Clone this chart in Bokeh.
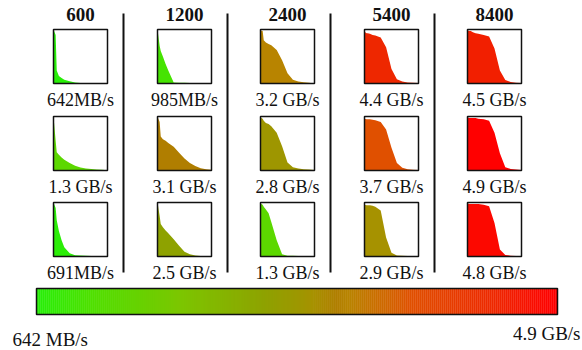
import numpy as np
from bokeh.plotting import figure
from bokeh.models import Range1d, LinearColorMapper, ColumnDataSource
from bokeh.core.properties import value
from bokeh.embed import file_html
from bokeh.resources import INLINE

# ---------------- data ----------------
disk_sizes = ["600", "1200", "2400", "5400", "8400"]

# throughput (MB/s) for each small chart, rows top to bottom
throughput_row1 = [642, 985, 3200, 4400, 4500]
throughput_row2 = [1300, 3100, 2800, 3700, 4900]
throughput_row3 = [691, 2500, 1300, 2900, 4800]

labels_row1 = ["642MB/s", "985MB/s", "3.2 GB/s", "4.4 GB/s", "4.5 GB/s"]
labels_row2 = ["1.3 GB/s", "3.1 GB/s", "2.8 GB/s", "3.7 GB/s", "4.9 GB/s"]
labels_row3 = ["691MB/s", "2.5 GB/s", "1.3 GB/s", "2.9 GB/s", "4.8 GB/s"]

scale_min = 642
scale_max = 4900
scale_min_label = "642 MB/s"
scale_max_label = "4.9 GB/s"

# shared horizontal sample positions (fraction of each small chart's width)
curve_u = [0, 0.04, 0.06, 0.1, 0.15, 0.2, 0.3, 0.4, 0.5, 0.6, 0.7, 0.8, 0.9, 1.0]

# curve heights (fraction of chart height)
curves_row1 = [
    [1.0, 0.9, 0.24, 0.14, 0.10, 0.07, 0.04, 0.02, 0.01, 0.005, 0, 0, 0, 0],
    [1.0, 0.7, 0.6, 0.5, 0.36, 0.24, 0.02, 0.015, 0.012, 0.01, 0.01, 0.01, 0.008, 0.005],
    [0.98, 0.97, 0.80, 0.76, 0.73, 0.71, 0.62, 0.43, 0.19, 0.07, 0.035, 0.025, 0.015, 0.0],
    [0.96, 0.93, 0.93, 0.92, 0.9, 0.89, 0.85, 0.67, 0.27, 0.08, 0.035, 0.02, 0.015, 0.01],
    [0.98, 0.97, 0.97, 0.95, 0.93, 0.92, 0.9, 0.87, 0.65, 0.24, 0.065, 0.03, 0.015, 0.01],
]
curves_row2 = [
    [1.0, 0.55, 0.34, 0.29, 0.24, 0.2, 0.14, 0.09, 0.055, 0.035, 0.028, 0.02, 0.012, 0.005],
    [1.0, 0.9, 0.63, 0.58, 0.55, 0.51, 0.44, 0.33, 0.22, 0.14, 0.085, 0.04, 0.025, 0.015],
    [0.98, 0.96, 0.92, 0.88, 0.86, 0.82, 0.7, 0.45, 0.15, 0.06, 0.035, 0.025, 0.02, 0.01],
    [0.96, 0.95, 0.95, 0.95, 0.94, 0.93, 0.9, 0.76, 0.42, 0.14, 0.05, 0.025, 0.015, 0.01],
    [0.98, 0.97, 0.97, 0.97, 0.97, 0.96, 0.95, 0.92, 0.7, 0.32, 0.06, 0.03, 0.02, 0.01],
]
curves_row3 = [
    [1.0, 0.9, 0.67, 0.47, 0.3, 0.17, 0.06, 0.025, 0.02, 0.015, 0.01, 0.0, 0.0, 0.0],
    [1.0, 0.75, 0.6, 0.54, 0.48, 0.43, 0.32, 0.2, 0.09, 0.04, 0.02, 0.01, 0.005, 0.0],
    [0.98, 0.96, 0.92, 0.87, 0.8, 0.64, 0.3, 0.04, 0.015, 0.012, 0.01, 0.01, 0.01, 0.01],
    [0.96, 0.95, 0.95, 0.95, 0.94, 0.92, 0.85, 0.35, 0.07, 0.02, 0.012, 0.01, 0.008, 0.005],
    [0.98, 0.97, 0.97, 0.97, 0.97, 0.97, 0.96, 0.93, 0.62, 0.13, 0.03, 0.015, 0.01, 0.005],
]

# colour scale stops (position along scale, colour)
color_stops = [(0.0, "#28ee08"), (0.1, "#4ee000"), (0.276, "#7cc600"), (0.436, "#8ea200"),
               (0.507, "#9e9600"), (0.53, "#a69200"), (0.577, "#b07e00"), (0.6, "#b88400"),
               (0.66, "#cc6c00"), (0.718, "#e05000"), (0.88, "#ee2800"), (1.0, "#ff0000")]

# ---------------- layout (page pixels) ----------------
W, H = 582, 350
col_left = [53, 157, 260, 364, 467]
row_top = [29, 116, 202]
box = 54
sep_x = [123, 227, 330, 434]
bar_left, bar_right, bar_top, bar_bottom = 36, 557, 288, 314
FONT = value("Liberation Serif")

# palette
ts = np.array([s[0] for s in color_stops])
rgb = np.array([[int(c[1][i:i + 2], 16) for i in (1, 3, 5)] for c in color_stops])
grid = np.linspace(0, 1, 256)
palette = ["#%02x%02x%02x" % tuple(int(round(np.interp(g, ts, rgb[:, k]))) for k in range(3)) for g in grid]
mapper = LinearColorMapper(palette=palette, low=scale_min, high=scale_max)

p = figure(width=W, height=H, x_range=Range1d(0, W), y_range=Range1d(H, 0),
           output_backend="svg", toolbar_location=None, min_border=0,
           x_axis_location=None, y_axis_location=None)
p.grid.visible = False
p.outline_line_color = None
p.background_fill_color = "white"
p.border_fill_color = "white"

rows = [(throughput_row1, labels_row1, curves_row1),
        (throughput_row2, labels_row2, curves_row2),
        (throughput_row3, labels_row3, curves_row3)]

xs, ys, vals = [], [], []
bl, br, bt, bb = [], [], [], []
lx, ly, lt = [], [], []
u = np.array(curve_u)
for r, (tp, labs, curves) in enumerate(rows):
    top = row_top[r]
    bottom = top + box
    for c in range(5):
        left = col_left[c]
        v = np.array(curves[c])
        px = list(left + u * box) + [left + box, left]
        py = list(bottom - v * box) + [bottom, bottom]
        xs.append(px)
        ys.append(py)
        vals.append(tp[c])
        bl.append(left); br.append(left + box); bt.append(top); bb.append(bottom)
        lx.append(left + box / 2); ly.append(bottom + 16); lt.append(labs[c])

# white boxes
p.quad(left=bl, right=br, top=bt, bottom=bb, fill_color="white", line_color=None)
# curves
src = ColumnDataSource(dict(xs=xs, ys=ys, v=vals))
p.patches("xs", "ys", source=src, fill_color={"field": "v", "transform": mapper}, line_color=None)
# box outlines
p.quad(left=bl, right=br, top=bt, bottom=bb, fill_color=None, line_color="#111111", line_width=1.5)

# value labels
p.text(x=lx, y=ly, text=lt, text_font=FONT, text_font_size="18px", text_align="center",
       text_baseline="alphabetic", text_color="#111111")

# titles
p.text(x=[l + box / 2 for l in col_left], y=[14] * 5, text=disk_sizes, text_font=FONT,
       text_font_size="19px", text_font_style="bold", text_align="center",
       text_baseline="alphabetic", text_color="#111111")

# separators
p.segment(x0=sep_x, x1=sep_x, y0=[13] * 4, y1=[272] * 4, line_color="#111111", line_width=2)

# colour bar
n = 260
edges = np.linspace(bar_left, bar_right, n + 1)
bar_vals = np.linspace(scale_min, scale_max, n)
bsrc = ColumnDataSource(dict(l=edges[:-1], r=edges[1:] + 0.3, v=bar_vals))
p.quad(left="l", right="r", top=bar_top, bottom=bar_bottom, source=bsrc,
       fill_color={"field": "v", "transform": mapper}, line_color=None)
p.quad(left=[bar_left], right=[bar_right], top=[bar_top], bottom=[bar_bottom],
       fill_color=None, line_color="#111111", line_width=1.5)

p.text(x=[12], y=[339], text=[scale_min_label], text_font=FONT, text_font_size="19px",
       text_align="left", text_baseline="alphabetic", text_color="#111111")
p.text(x=[580], y=[333], text=[scale_max_label], text_font=FONT, text_font_size="19px",
       text_align="right", text_baseline="alphabetic", text_color="#111111")

open("out.html", "w").write(file_html(p, INLINE))
